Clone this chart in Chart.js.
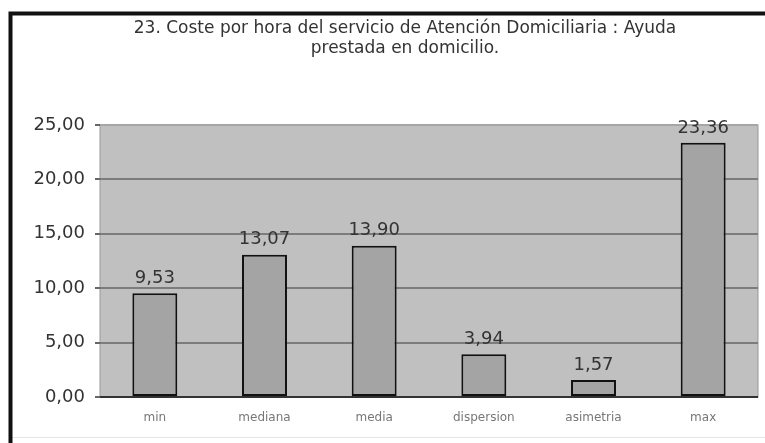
<!DOCTYPE html>
<html>
<head>
<meta charset="utf-8">
<script src="https://cdn.jsdelivr.net/npm/chart.js@4"></script>
<style>
  html, body { margin: 0; padding: 0; background: #fff; }
  #wrap { width: 765px; height: 443px; }
</style>
</head>
<body>
<div id="wrap"><canvas id="chart" width="765" height="443"></canvas></div>
<script>
// Data
const categories = ["min", "mediana", "media", "dispersion", "asimetria", "max"];
const costValues = [9.53, 13.07, 13.90, 3.94, 1.57, 23.36];
const yTicks = [0, 5, 10, 15, 20, 25];
const titleLines = ["23. Coste por hora del servicio de Atención Domiciliaria : Ayuda",
                    "prestada en domicilio."];

const FONT = "'DejaVu Sans', 'Liberation Sans', Arial, sans-serif";
const fmt = v => v.toFixed(2).replace(".", ",");

// frame, title and grey plot background
const frame = {
    id: "frame",
    beforeDraw(chart) {
        const c = chart.ctx, a = chart.chartArea;
        c.save();
        c.fillStyle = "#c0c0c0";
        c.fillRect(a.left, a.top, a.right - a.left, a.bottom - a.top);
        c.strokeStyle = "#999";
        c.lineWidth = 1;
        c.strokeRect(a.left, a.top, a.right - a.left, a.bottom - a.top);
        c.strokeStyle = "#e6e6e6";
        c.beginPath(); c.moveTo(12, 437.5); c.lineTo(765, 437.5); c.stroke();
        c.strokeStyle = "#111";
        c.lineWidth = 4;
        c.beginPath();
        c.moveTo(10.5, 443); c.lineTo(10.5, 13.5); c.lineTo(765, 13.5);
        c.stroke();
        // title
        c.font = "17px " + FONT;
        c.fillStyle = "#333";
        c.textAlign = "center";
        c.textBaseline = "middle";
        c.fillText(titleLines[0], 405, 29);
        c.fillText(titleLines[1], 405, 49);
        c.restore();
    }
};

// value labels above the bars
const valueLabels = {
    id: "valueLabels",
    afterDatasetsDraw(chart) {
        const c = chart.ctx;
        const meta = chart.getDatasetMeta(0);
        c.save();
        c.font = "18px " + FONT;
        c.fillStyle = "#333";
        c.textAlign = "center";
        c.textBaseline = "bottom";
        meta.data.forEach((bar, i) => {
            c.fillText(fmt(costValues[i]), bar.x, bar.y - 6);
        });
        c.restore();
    }
};

new Chart(document.getElementById("chart"), {
    type: "bar",
    data: {
        labels: categories,
        datasets: [{
            data: costValues,
            backgroundColor: "#a4a4a4",
            borderColor: "#111",
            borderWidth: 2,
            borderSkipped: false,
            barPercentage: 0.41,
            categoryPercentage: 1
        }]
    },
    options: {
        responsive: false,
        animation: false,
        layout: { padding: { left: 20, right: 7, top: 125, bottom: 16 } },
        plugins: {
            legend: { display: false },
            tooltip: { enabled: false },
            title: { display: false }
        },
        scales: {
            x: {
                grid: { display: false, drawTicks: false },
                border: { display: false },
                ticks: {
                    color: "#777",
                    padding: 14,
                    font: { family: FONT, size: 12 }
                },
                afterFit(s) { s.height = 30; }
            },
            y: {
                min: 0,
                max: 25,
                afterBuildTicks(s) { s.ticks = yTicks.map(v => ({ value: v })); },
                grid: {
                    color: ctx => ctx.tick.value === 25 ? "#a6a6a6" : (ctx.tick.value === 0 ? "#333" : "#7c7c7c"),
                    lineWidth: 2,
                    tickLength: 5,
                    tickColor: "#666"
                },
                border: { display: false },
                ticks: {
                    color: "#333",
                    padding: 10,
                    font: { family: FONT, size: 18 },
                    callback: v => fmt(v)
                },
                afterFit(s) { s.width = 80; }
            }
        }
    },
    plugins: [frame, valueLabels]
});
</script>
</body>
</html>
